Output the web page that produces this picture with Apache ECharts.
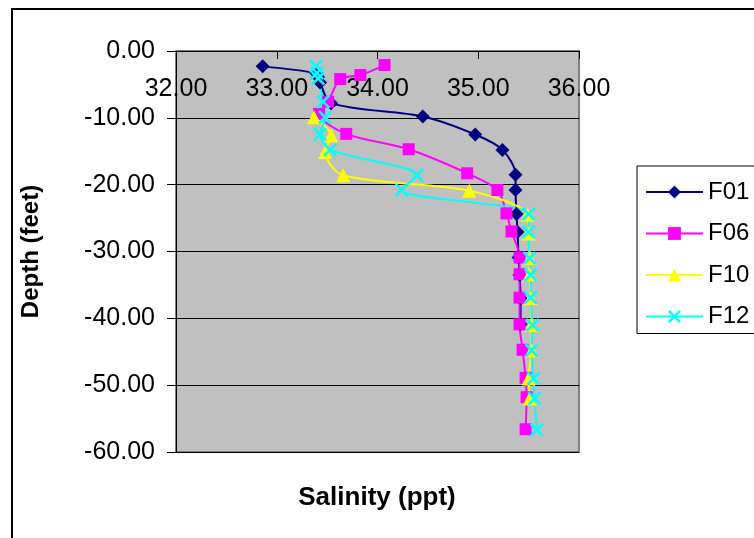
<!DOCTYPE html>
<html>
<head>
<meta charset="utf-8">
<script src="https://cdn.jsdelivr.net/npm/echarts@6/dist/echarts.min.js"></script>
<style>html,body{margin:0;padding:0;background:#fff;}#c{width:754px;height:538px;}</style>
</head>
<body>
<div id="c"></div>
<script>
const seriesNames = ['F01', 'F06', 'F10', 'F12'];
const xTicks = [32, 33, 34, 35, 36];
const yTicks = [0, -10, -20, -30, -40, -50, -60];

const f01Sal = [32.86, 33.39, 33.41, 33.43, 33.54, 34.45, 34.97, 35.24, 35.37, 35.37, 35.38, 35.39, 35.40, 35.41, 35.42, 35.42];
const f01Dep = [-2.3, -3.3, -3.9, -4.7, -7.8, -9.8, -12.5, -14.8, -18.5, -20.8, -24.4, -27.1, -30.9, -33.5, -37.0, -40.9];

const f06Sal = [34.07, 33.83, 33.63, 33.51, 33.42, 33.69, 34.31, 34.89, 35.19, 35.28, 35.33, 35.41, 35.41, 35.41, 35.41, 35.44, 35.47, 35.48, 35.47];
const f06Dep = [-2.1, -3.6, -4.2, -7.6, -9.4, -12.4, -14.7, -18.3, -20.8, -24.3, -27.0, -30.9, -33.4, -36.9, -40.9, -44.7, -48.9, -51.8, -56.6];

const f10Sal = [33.37, 33.54, 33.48, 33.66, 34.91, 35.49, 35.50, 35.51, 35.51, 35.52, 35.53, 35.53, 35.50, 35.51];
const f10Dep = [-9.9, -12.6, -15.1, -18.6, -20.9, -24.5, -27.3, -31.0, -33.4, -37.0, -41.0, -44.8, -49.0, -52.0];

const f12Sal = [33.39, 33.40, 33.41, 33.46, 33.48, 33.43, 33.53, 34.39, 34.24, 35.50, 35.50, 35.51, 35.52, 35.52, 35.54, 35.53, 35.55, 35.56, 35.58];
const f12Dep = [-2.3, -3.3, -4.1, -7.6, -9.9, -12.5, -14.8, -18.6, -20.8, -24.4, -27.1, -31.0, -33.5, -36.9, -41.0, -44.8, -49.0, -52.0, -56.7];

const pairs = (xs, ys) => xs.map((v, i) => [v, ys[i]]);
const xPath = 'path://M1.3,0 L5,3.7 L8.7,0 L10,1.3 L6.3,5 L10,8.7 L8.7,10 L5,6.3 L1.3,10 L0,8.7 L3.7,5 L0,1.3 Z';

const FONT = '"Liberation Sans", Arial, sans-serif';
const chart = echarts.init(document.getElementById('c'));

function mk(name, data, color, symbol, size) {
  return {
    name: name, type: 'line', data: data, smooth: 0.3,
    symbol: symbol, symbolSize: size,
    lineStyle: { color: color, width: 2 },
    itemStyle: { color: color },
    animation: false
  };
}

chart.setOption({
  backgroundColor: '#ffffff',
  animation: false,
  graphic: [{
    type: 'rect', shape: { x: 12, y: 9, width: 800, height: 600 },
    style: { fill: 'none', stroke: '#000', lineWidth: 2 }, silent: true, z: -1
  }],
  title: {
    text: 'Salinity (ppt)', left: 'center', top: 480,
    textStyle: { fontFamily: FONT, fontWeight: 'bold', fontSize: 26, color: '#000' }
  },
  grid: {
    left: 176, top: 51, right: 175, bottom: 86,
    show: true, backgroundColor: '#C0C0C0', borderColor: '#808080', borderWidth: 2
  },
  legend: {
    orient: 'vertical', left: 637, top: 166,
    padding: [14, 60, 5, 8],
    borderColor: '#000', borderWidth: 1, backgroundColor: '#fff',
    itemWidth: 57, itemHeight: 16, itemGap: 17.5,
    textStyle: { fontFamily: FONT, fontSize: 24, color: '#000', lineHeight: 24 },
    data: seriesNames
  },
  xAxis: {
    type: 'value', position: 'top', min: xTicks[0], max: xTicks[xTicks.length - 1], interval: 1,
    axisLine: { show: true, lineStyle: { color: '#000', width: 1 } },
    axisTick: { show: true, inside: true, length: 8, lineStyle: { color: '#000' } },
    axisLabel: { inside: true, margin: 26, fontFamily: FONT, fontSize: 25, color: '#000',
      formatter: v => v.toFixed(2) },
    splitLine: { show: false }
  },
  yAxis: {
    type: 'value', min: yTicks[yTicks.length - 1], max: yTicks[0], interval: 10,
    name: 'Depth (feet)', nameLocation: 'middle', nameRotate: 90, nameGap: 133,
    nameTextStyle: { fontFamily: FONT, fontWeight: 'bold', fontSize: 24, color: '#000' },
    axisLine: { show: true, onZero: false, lineStyle: { color: '#000', width: 1 } },
    axisTick: { show: true, length: 9, lineStyle: { color: '#000' } },
    axisLabel: { margin: 21, fontFamily: FONT, fontSize: 25, color: '#000',
      formatter: v => v.toFixed(2) },
    splitLine: { show: true, lineStyle: { color: '#000', width: 1 } }
  },
  series: [
    mk('F01', pairs(f01Sal, f01Dep), '#000080', 'diamond', 14),
    mk('F06', pairs(f06Sal, f06Dep), '#FF00FF', 'rect', 12),
    mk('F10', pairs(f10Sal, f10Dep), '#FFFF00', 'triangle', 14),
    mk('F12', pairs(f12Sal, f12Dep), '#00FFFF', xPath, 14)
  ]
});
</script>
</body>
</html>
